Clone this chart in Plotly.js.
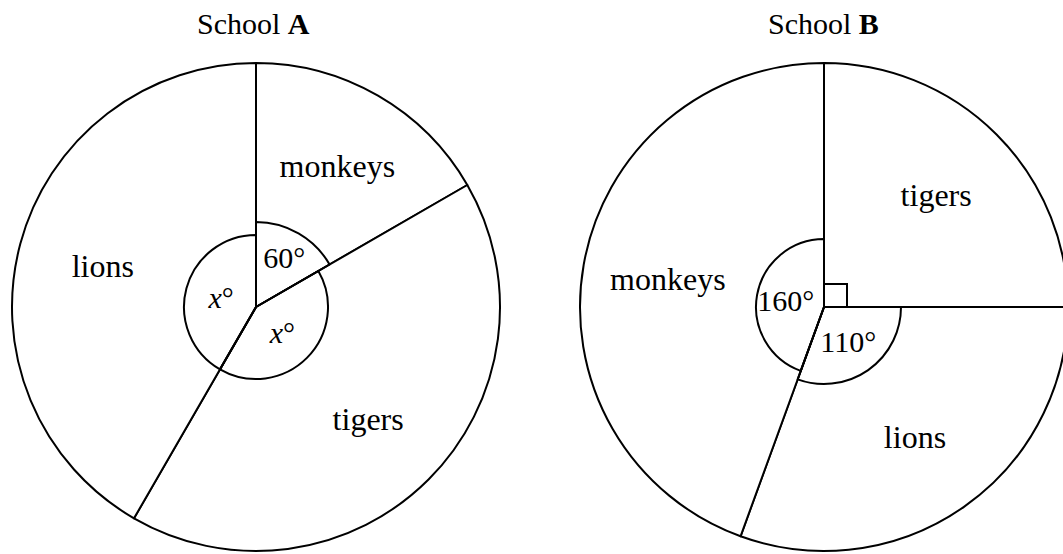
<!DOCTYPE html>
<html>
<head>
<meta charset="utf-8">
<script src="https://cdn.plot.ly/plotly-3.0.1.min.js"></script>
<style>
  html, body { margin: 0; padding: 0; width: 1063px; height: 554px; overflow: hidden; background: #ffffff; }
  #chart { width: 1080px; height: 554px; }
</style>
</head>
<body>
<div id="chart"></div>
<script>
// ---- data ----
const schoolTitles = ['School <b>A</b>', 'School <b>B</b>'];

const animalsA = ['monkeys', 'tigers', 'lions'];
const degreesA = [60, 150, 150];
const angleLabelsA = ['60°', '<i>x</i>°', '<i>x</i>°'];

const animalsB = ['tigers', 'lions', 'monkeys'];
const degreesB = [90, 110, 160];
const angleLabelsB = ['', '110°', '160°'];

// ---- layout / style constants ----
const W = 1080, H = 554;
const R = 244;
const centerA = [256, 307];
const centerB = [824, 307];
const arcRadiusA = [85, 72, 72];
const labelRadiusA = [85, 72, 72];
const arcRadiusB = [0, 77, 68];
const labelRadiusB = [0, 77, 77];
const FONT = 'Liberation Serif, Times New Roman, serif';
const FS = 30;
const FS_NAME = 32;
const LW = 2;

function domainFor(c, r) {
  return { x: [(c[0] - r) / W, (c[0] + r) / W], y: [1 - (c[1] + r) / H, 1 - (c[1] - r) / H] };
}

function schoolTraces(animals, degrees, angleLabels, c, arcR, labelR) {
  const white = animals.map(() => '#ffffff');
  const clear = animals.map(() => 'rgba(0,0,0,0)');
  const common = {
    type: 'pie', labels: animals, values: degrees, sort: false,
    direction: 'clockwise', rotation: 0, hoverinfo: 'none', showlegend: false
  };
  const traces = [];
  // outline pie: circle + radial lines
  traces.push(Object.assign({}, common, {
    domain: domainFor(c, R),
    marker: { colors: white, line: { color: '#000000', width: LW } },
    textinfo: 'none'
  }));
  // names
  traces.push(Object.assign({}, common, {
    domain: domainFor(c, R), hole: 0.3,
    marker: { colors: clear, line: { color: '#000000', width: 0 } },
    textinfo: 'label', textposition: 'inside', insidetextorientation: 'horizontal',
    textfont: { family: FONT, size: FS_NAME, color: '#000000' },
    insidetextfont: { family: FONT, size: FS_NAME, color: '#000000' }
  }));
  // angle arcs and angle labels
  const radii = Array.from(new Set(arcR.concat(labelR).filter(r => r > 0)));
  radii.forEach(r => {
    traces.push(Object.assign({}, common, {
      domain: domainFor(c, r),
      marker: { colors: clear, line: { color: '#000000', width: arcR.map(a => a === r ? LW : 0) } },
      text: angleLabels.map((t, i) => labelR[i] === r ? t : ''),
      textinfo: 'text', textposition: 'inside', insidetextorientation: 'horizontal',
      textfont: { family: FONT, size: FS, color: '#000000' },
      insidetextfont: { family: FONT, size: FS, color: '#000000' }
    }));
  });
  return traces;
}

// right-angle marker for 90° slices
function rightAngleShapes(degrees, c) {
  const shapes = [];
  const size = 23;
  let start = 0;
  const total = degrees.reduce((a, b) => a + b, 0);
  degrees.forEach(d => {
    const a0 = start / total * 2 * Math.PI;
    const a1 = (start + d) / total * 2 * Math.PI;
    if (d / total * 360 === 90) {
      const u = [Math.sin(a0), -Math.cos(a0)], v = [Math.sin(a1), -Math.cos(a1)];
      const pts = [
        [c[0] + size * u[0], c[1] + size * u[1]],
        [c[0] + size * (u[0] + v[0]), c[1] + size * (u[1] + v[1])],
        [c[0] + size * v[0], c[1] + size * v[1]]
      ].map(p => [p[0] / W, 1 - p[1] / H]);
      shapes.push({
        type: 'path', xref: 'paper', yref: 'paper',
        path: 'M' + pts.map(p => p[0] + ',' + p[1]).join(' L'),
        line: { color: '#000000', width: LW }
      });
    }
    start += d;
  });
  return shapes;
}

const data = []
  .concat(schoolTraces(animalsA, degreesA, angleLabelsA, centerA, arcRadiusA, labelRadiusA))
  .concat(schoolTraces(animalsB, degreesB, angleLabelsB, centerB, arcRadiusB, labelRadiusB));

const layout = {
  width: W, height: H,
  margin: { l: 0, r: 0, t: 0, b: 0 },
  paper_bgcolor: '#ffffff', plot_bgcolor: '#ffffff',
  font: { family: FONT, size: FS, color: '#000000' },
  showlegend: false,
  shapes: rightAngleShapes(degreesB, centerB),
  annotations: [
    { text: schoolTitles[0], x: 253 / W, y: 1 - 23 / H, xref: 'paper', yref: 'paper',
      xanchor: 'center', yanchor: 'middle', showarrow: false, font: { family: FONT, size: FS, color: '#000000' } },
    { text: schoolTitles[1], x: 823 / W, y: 1 - 23 / H, xref: 'paper', yref: 'paper',
      xanchor: 'center', yanchor: 'middle', showarrow: false, font: { family: FONT, size: FS, color: '#000000' } }
  ]
};

Plotly.newPlot('chart', data, layout, { staticPlot: true, displayModeBar: false });
</script>
</body>
</html>
